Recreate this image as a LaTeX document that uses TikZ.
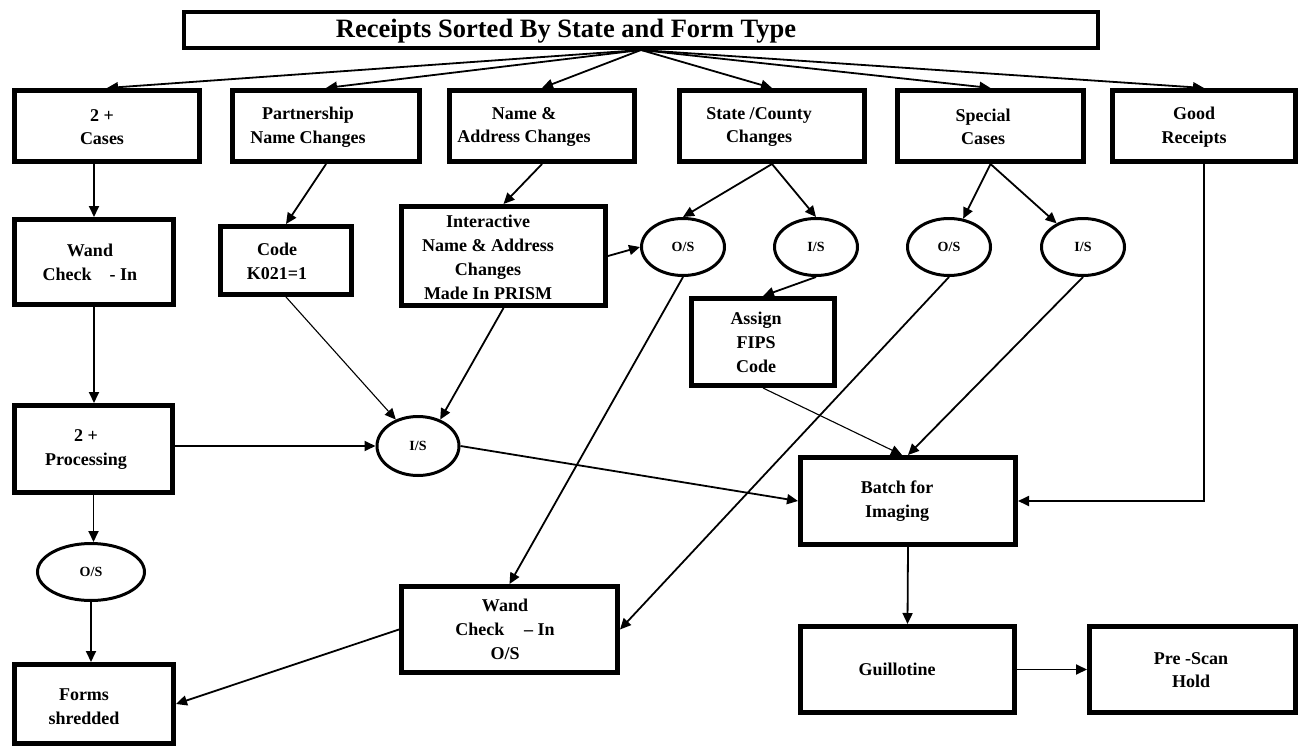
\documentclass[tikz,border=0pt]{standalone}
\usepackage{fontspec}
\setmainfont{Liberation Serif}
\usetikzlibrary{shapes.geometric,arrows.meta,calc}
\begin{document}
\begin{tikzpicture}[x=1pt,y=-1pt,
  box/.style={draw, line width=5pt, inner sep=0pt, rectangle},
  titlebox/.style={draw, line width=4pt, inner sep=0pt, rectangle},
  txt/.style={font=\fontsize{18}{23.5}\selectfont\bfseries, align=center, inner sep=0pt},
  txtb/.style={font=\fontsize{18}{24}\selectfont\bfseries, align=center, inner sep=0pt},
  ttl/.style={font=\fontsize{26.5}{30}\selectfont\bfseries, inner sep=0pt},
  ell/.style={draw, ellipse, line width=3pt, inner sep=0pt, font=\fontsize{14}{16}\selectfont\bfseries},
  arr/.style={line width=1.8pt, -{Triangle[length=11pt,width=10pt]}},
  arrthin/.style={line width=1.1pt, -{Triangle[length=11pt,width=10pt]}}
]
\fill[white] (0,0) rectangle (1303,749);
\useasboundingbox (0,0) rectangle (1303,749);

% title
\node[titlebox, minimum width=914pt, minimum height=36pt] (title) at (641,30) {};
\node[ttl] (titleT) at (566,31) {Receipts Sorted By State and Form Type};

% row 2
\node[box, minimum width=185pt, minimum height=71pt] (cases) at (107,126) {};
\node[txt] (casesT) at (102,127) {2 +\\Cases};
\node[box, minimum width=187pt, minimum height=71pt] (partner) at (326,126) {};
\node[txt] (partnerT) at (308,127) {Partnership\\Name Changes};
\node[box, minimum width=185pt, minimum height=71pt] (name) at (542,126) {};
\node[txt] (nameT) at (524,127) {Name \&\\Address Changes};
\node[box, minimum width=185pt, minimum height=71pt] (state) at (772,126) {};
\node[txt] (stateT) at (759,127) {State /County\\Changes};
\node[box, minimum width=186pt, minimum height=71pt] (special) at (990.5,126) {};
\node[txt] (specialT) at (983,127) {Special\\Cases};
\node[box, minimum width=183pt, minimum height=71pt] (good) at (1204,126) {};
\node[txt] (goodT) at (1194,127) {Good\\Receipts};

% row 3
\node[box, minimum width=159pt, minimum height=85pt] (wand) at (94,262) {};
\node[txtb] (wandT) at (90,262) {Wand\\Check\hspace{1em}- In};
\node[box, minimum width=131pt, minimum height=68pt] (code) at (286,260.5) {};
\node[txtb] (codeT) at (277,261) {Code\\K021=1};
\node[box, minimum width=204pt, minimum height=99pt] (inter) at (503.5,256) {};
\node[txtb] (interT) at (488,257) {Interactive\\Name \& Address\\Changes\\Made In PRISM};

\node[ell, minimum width=83pt, minimum height=57pt] (os2) at (683,247) {O/S};
\node[ell, minimum width=83pt, minimum height=57pt] (is2) at (816,247) {I/S};
\node[ell, minimum width=83pt, minimum height=57pt] (os3) at (949,247) {O/S};
\node[ell, minimum width=83pt, minimum height=57pt] (is3) at (1083,247) {I/S};

\node[box, minimum width=143pt, minimum height=87pt] (assign) at (763,342) {};
\node[txtb] (assignT) at (756,342) {Assign\\FIPS\\Code};

% row 4
\node[box, minimum width=158pt, minimum height=87pt] (proc) at (93.5,449) {};
\node[txtb] (procT) at (86,450) {2 +\\Processing};
\node[ell, minimum width=82pt, minimum height=59pt] (isc) at (418,446) {I/S};
\node[box, minimum width=215pt, minimum height=87pt] (batch) at (908,501) {};
\node[txt] (batchT) at (897,501) {Batch for\\Imaging};

% bottom
\node[ell, minimum width=107pt, minimum height=57pt] (os1) at (91,572) {O/S};
\node[box, minimum width=216pt, minimum height=86pt] (wando) at (509.5,629.5) {};
\node[txtb] (wandoT) at (505,629) {Wand\\Check\hspace{1.1em}-- In\\O/S};
\node[box, minimum width=159pt, minimum height=79pt] (forms) at (94,704) {};
\node[txtb] (formsT) at (84,707) {Forms\\shredded};
\node[box, minimum width=214pt, minimum height=86pt] (guill) at (907.5,669.5) {};
\node[txt] (guillT) at (897,669) {Guillotine};
\node[box, minimum width=206pt, minimum height=86pt] (pre) at (1192.5,669.5) {};
\node[txt] (preT) at (1191,670) {Pre -Scan\\Hold};

% title fan-out
\foreach \n in {cases,partner,name,state,special,good}
  \draw[arr] (title.south) -- (\n.north);

% left column
\draw[arr] (wand.north |- cases.south) -- (wand.north);
\draw[arr] (wand.south) -- (wand.south |- proc.north);
\draw[arr] (proc.south) -- (proc.south |- os1.north);
\draw[arr] (os1.south) -- (os1.south |- forms.north);

% partnership / name
\draw[arr] (partner.south) -- (code.north);
\draw[arr] (name.south) -- (inter.north);
\draw[arr] (inter.east) -- (os2.west);
\draw[arrthin] (code.south) -- (isc.130);
\draw[arr] (inter.south) -- (isc.50);
\draw[arr] (proc.east |- isc) -- (isc.west);
\draw[arr] (isc.east) -- (batch.west);

% state / special
\draw[arr] (state.south) -- (os2.north);
\draw[arr] (state.south) -- (is2.north);
\draw[arr] (special.south) -- (os3);
\draw[arr] (special.south) -- (is3);
\draw[arr] (is2.south) -- (assign.north);
\draw[arrthin] (assign.south) -- ([xshift=-6pt]batch.north);
\draw[arr] (is3.south) -- (batch.north);
\draw[arr] (good.south) |- (batch.east);
\draw[arr] (os2.south) -- (wando.north);
\draw[arr] (os3.south) -- (wando.east);
\draw[arr] (wando.west) -- (forms.east);

% bottom right
\draw[arr] (batch.south) -- (guill.north);
\draw[arr] (guill.east) -- (pre.west);
\end{tikzpicture}
\end{document}
